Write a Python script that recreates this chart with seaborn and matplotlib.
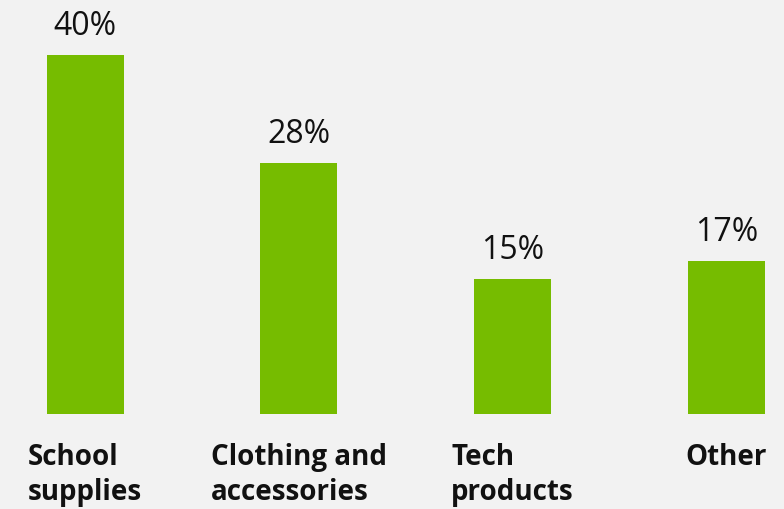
import matplotlib
matplotlib.use("Agg")
import matplotlib.pyplot as plt
import seaborn as sns
import pandas as pd

categories = ["School\nsupplies", "Clothing and\naccessories", "Tech\nproducts", "Other"]
values = [40, 28, 15, 17]
value_labels = ["40%", "28%", "15%", "17%"]

sns.set_theme(style="white")
plt.rcParams["font.family"] = ["Open Sans", "DejaVu Sans"]

BG = "#f2f2f2"
GREEN = "#76bc00"

fig = plt.figure(figsize=(7.84, 5.10), dpi=100, facecolor=BG)
ax = fig.add_axes([0, (510 - 415) / 510, 1, 415 / 510])
ax.set_facecolor(BG)

df = pd.DataFrame({"cat": categories, "val": values})
sns.barplot(data=df, x="cat", y="val", color=GREEN, width=0.36, saturation=1,
            linewidth=0, ax=ax)

ax.set_xlim(-0.398, 3.27)
ax.set_ylim(0, 46.24)
for s in ax.spines.values():
    s.set_visible(False)
ax.set_yticks([])
ax.set_xlabel("")
ax.set_ylabel("")

for i, (v, lab) in enumerate(zip(values, value_labels)):
    ax.annotate(lab, (i, v), xytext=(0, 13), textcoords="offset pixels",
                ha="center", va="bottom", fontsize=23, color="#111111")

ax.tick_params(axis="x", length=0, pad=20)
for t in ax.get_xticklabels():
    t.set_fontsize(20)
    t.set_fontweight("bold")
    t.set_color("#111111")
    t.set_multialignment("left")
    t.set_linespacing(1.28)

fig.savefig("out.png", dpi=100, facecolor=BG)
